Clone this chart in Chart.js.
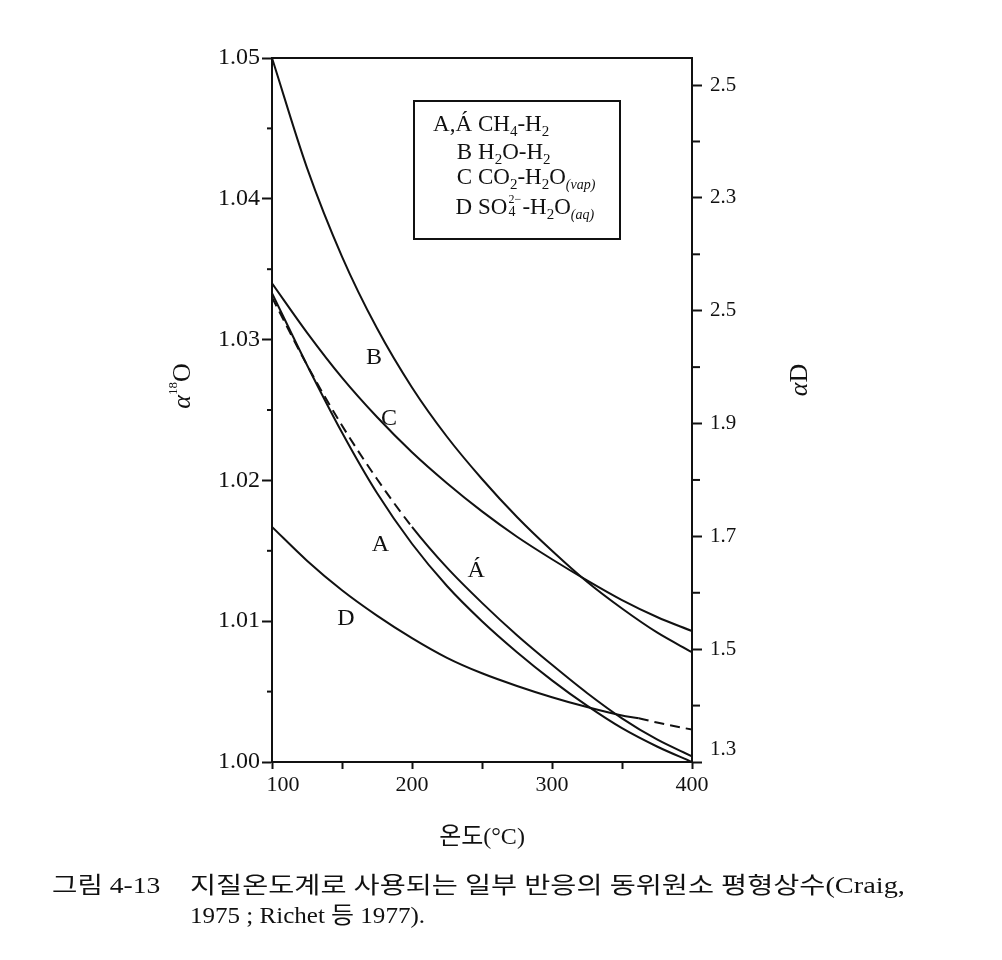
<!DOCTYPE html>
<html><head><meta charset="utf-8">
<script src="https://cdn.jsdelivr.net/npm/chart.js@4.4.0/dist/chart.umd.min.js"></script>
<style>
html,body{margin:0;padding:0;background:#fff;}
#wrap{position:relative;width:1002px;height:960px;overflow:hidden;}
#chart{position:absolute;left:0;top:0;}
.legend{position:absolute;left:413px;top:100px;width:204px;height:136px;border:2px solid #111;font-family:"Liberation Serif",serif;font-size:23px;color:#111;}
.row{position:absolute;left:0;height:26px;line-height:26px;white-space:nowrap;}
.k{display:inline-block;width:57px;text-align:right;}
.f{display:inline-block;margin-left:6px;}
.s{font-size:15px;position:relative;top:5px;}
.it{font-style:italic;font-size:14px;position:relative;top:5px;}
.stk{display:inline-block;position:relative;width:15px;height:20px;vertical-align:-3px;}
.stk .u{position:absolute;left:1px;top:-5px;font-size:12px;line-height:14px;}
.stk .d{position:absolute;left:1px;top:8px;font-size:14px;line-height:14px;}
.cap{position:absolute;font-family:"Liberation Serif","Noto Sans CJK KR",serif;font-size:23px;line-height:28px;white-space:nowrap;transform-origin:0 50%;color:#111;}
</style>
</head>
<body>
<div id="wrap">
<canvas id="chart" width="1002" height="960"></canvas>
<div class="legend">
  <div class="row" style="top:9px"><span class="k">A,Á</span><span class="f">CH<span class="s">4</span>-H<span class="s">2</span></span></div>
  <div class="row" style="top:37px"><span class="k">B</span><span class="f">H<span class="s">2</span>O-H<span class="s">2</span></span></div>
  <div class="row" style="top:62px"><span class="k">C</span><span class="f">CO<span class="s">2</span>-H<span class="s">2</span>O<span class="it">(vap)</span></span></div>
  <div class="row" style="top:92px"><span class="k">D</span><span class="f">SO<span class="stk"><span class="u">2−</span><span class="d">4</span></span>-H<span class="s">2</span>O<span class="it">(aq)</span></span></div>
</div>
<div id="cap1a" class="cap" style="left:52px;top:872px">그림 4-13</div>
<div id="cap1b" class="cap" style="left:190px;top:872px">지질온도계로 사용되는 일부 반응의 동위원소 평형상수(Craig,</div>
<div id="cap2" class="cap" style="left:190px;top:902px">1975 ; Richet 등 1977).</div>
</div>
<script>
// ---- data ----
const temps = [100,125,150,175,200,225,250,275,300,325,350,375,400];
const seriesA  = [1.0333,1.0282,1.0234,1.0191,1.0155,1.0125,1.0100,1.0078,1.0058,1.0040,1.0024,1.0011,1.0000];
const seriesA2 = [1.0330,1.0282,1.0239,1.0201,1.0167,1.0138,1.0113,1.0090,1.0069,1.0049,1.0031,1.0016,1.0004];
const seriesB  = [1.0500,1.0422,1.0359,1.0308,1.0266,1.0231,1.0201,1.0174,1.0150,1.0128,1.0109,1.0092,1.0078];
const seriesC  = [1.0340,1.0305,1.0273,1.0245,1.0220,1.0198,1.0178,1.0160,1.0144,1.0129,1.0115,1.0103,1.0093];
const tempsD   = [100,125,150,175,200,225,250,275,300,325,350,362,375,400];
const seriesD  = [1.0167,1.0143,1.0122,1.0104,1.0088,1.0074,1.0063,1.0054,1.0046,1.0039,1.0033,1.0031,1.0028,1.0023];
const dashedA2Until = 200;   // Á drawn dashed below this temperature
const dashedDFrom = 362;     // D drawn dashed above this temperature

const xTicks = [100,150,200,250,300,350,400];
const xTickLabels = ['100','','200','','300','','400'];
const leftTicks = [1.00,1.01,1.02,1.03,1.04,1.05];
const leftTickLabels = ['1.00','1.01','1.02','1.03','1.04','1.05'];
const leftMinorTicks = [1.005,1.015,1.025,1.035,1.045];
const rightTicks = [1.3,1.5,1.7,1.9,2.1,2.3,2.5];
const rightTickLabels = ['1.3','1.5','1.7','1.9','2.5','2.3','2.5'];
const rightMinorTicks = [1.4,1.6,1.8,2.0,2.2,2.4];

const curveNames = ['B','C','A','Á','D'];
const curveLabelX = [172.8,183.6,177.5,245.8,152.8];
const curveLabelY = [1.0287,1.0244,1.0154,1.0136,1.0102];

const xTitle = '온도(°C)';
// ---------------

const INK = '#111';
const pts = (xs, ys) => xs.map((x, i) => ({x: x, y: ys[i]}));
const lineStyle = {borderColor: INK, borderWidth: 2, pointRadius: 0, fill: false, cubicInterpolationMode: 'monotone'};

function drawRich(ctx, parts, cx, cy) {
  ctx.save();
  ctx.translate(cx, cy);
  ctx.rotate(-Math.PI / 2);
  let total = 0;
  parts.forEach(p => { ctx.font = p.font; p.w = ctx.measureText(p.t).width; total += p.w; });
  let x = -total / 2;
  ctx.textBaseline = 'middle';
  ctx.fillStyle = INK;
  parts.forEach(p => { ctx.font = p.font; ctx.fillText(p.t, x, p.dy || 0); x += p.w; });
  ctx.restore();
}

const decor = {
  id: 'decor',
  afterDraw(chart) {
    const ctx = chart.ctx, a = chart.chartArea;
    const sy = chart.scales.y, sy2 = chart.scales.y2, sx = chart.scales.x;
    ctx.save();
    ctx.strokeStyle = INK;
    ctx.lineWidth = 2;
    ctx.beginPath(); ctx.moveTo(a.left - 1, a.top); ctx.lineTo(a.right + 1, a.top); ctx.stroke();
    leftMinorTicks.forEach(v => {
      const py = sy.getPixelForValue(v);
      ctx.beginPath(); ctx.moveTo(a.left - 5, py); ctx.lineTo(a.left, py); ctx.stroke();
    });
    rightMinorTicks.forEach(v => {
      const py = sy2.getPixelForValue(v);
      ctx.beginPath(); ctx.moveTo(a.right, py); ctx.lineTo(a.right + 8, py); ctx.stroke();
    });
    ctx.fillStyle = INK;
    ctx.font = '24px "Liberation Serif", serif';
    ctx.textAlign = 'center';
    ctx.textBaseline = 'middle';
    curveNames.forEach((n, i) => {
      ctx.fillText(n, sx.getPixelForValue(curveLabelX[i]), sy.getPixelForValue(curveLabelY[i]));
    });
    ctx.restore();
    drawRich(ctx, [
      {t: 'α', font: 'italic 26px "Liberation Serif", serif'},
      {t: '18', font: '13px "Liberation Serif", serif', dy: -9},
      {t: 'O', font: '26px "Liberation Serif", serif'}
    ], a.left - 89, a.top + 328);
    drawRich(ctx, [
      {t: 'α', font: 'italic 26px "Liberation Serif", serif'},
      {t: 'D', font: '26px "Liberation Serif", serif'}
    ], a.right + 108, a.top + 322);
  }
};

new Chart(document.getElementById('chart'), {
  type: 'line',
  data: {
    datasets: [
      Object.assign({label: 'B', data: pts(temps, seriesB)}, lineStyle),
      Object.assign({label: 'C', data: pts(temps, seriesC)}, lineStyle),
      Object.assign({label: 'A', data: pts(temps, seriesA)}, lineStyle),
      Object.assign({label: 'Á', data: pts(temps, seriesA2),
        segment: {borderDash: c => c.p1.parsed.x <= dashedA2Until ? [10, 6] : undefined}}, lineStyle),
      Object.assign({label: 'D', data: pts(tempsD, seriesD),
        segment: {borderDash: c => c.p0.parsed.x >= dashedDFrom ? [10, 6] : undefined}}, lineStyle)
    ]
  },
  options: {
    responsive: false,
    animation: false,
    devicePixelRatio: 1,
    layout: {padding: {left: 0, right: 0, top: 58, bottom: 106}},
    plugins: {legend: {display: false}, tooltip: {enabled: false}},
    scales: {
      x: {
        type: 'linear', position: 'bottom', min: 100, max: 400,
        afterBuildTicks: s => { s.ticks = xTicks.map(v => ({value: v})); },
        afterFit: s => { s.height = 92; },
        ticks: {
          autoSkip: false, maxRotation: 0, color: INK, padding: 3,
          font: {family: '"Liberation Serif", serif', size: 22},
          callback: (v, i) => (i === 0 ? '\u2007\u2007' : '') + xTickLabels[i]
        },
        grid: {drawOnChartArea: false, drawTicks: true, tickLength: 7, tickWidth: 2, tickColor: INK},
        border: {color: INK, width: 2},
        title: {display: true, text: xTitle, color: INK,
          font: {family: '"Liberation Serif", "Noto Sans CJK KR", serif', size: 24, lineHeight: 1.0}}
      },
      y: {
        type: 'linear', position: 'left', min: 1.0, max: 1.05,
        afterBuildTicks: s => { s.ticks = leftTicks.map(v => ({value: v})); },
        afterFit: s => { s.width = 272; },
        ticks: {
          color: INK, padding: 2,
          font: {family: '"Liberation Serif", serif', size: 24},
          callback: (v, i) => leftTickLabels[i]
        },
        grid: {drawOnChartArea: false, drawTicks: true, tickLength: 10, tickWidth: 2, tickColor: INK},
        border: {color: INK, width: 2}
      },
      y2: {
        type: 'linear', position: 'right', min: 1.3, max: 2.548,
        afterBuildTicks: s => { s.ticks = rightTicks.map(v => ({value: v})); },
        afterFit: s => { s.width = 310; },
        ticks: {
          color: INK, padding: 8,
          font: {family: '"Liberation Serif", serif', size: 21},
          callback: (v, i) => i === 0 ? [rightTickLabels[i], ''] : rightTickLabels[i]
        },
        grid: {drawOnChartArea: false, drawTicks: true, tickLength: 10, tickWidth: 2, tickColor: INK},
        border: {color: INK, width: 2}
      }
    }
  },
  plugins: [decor]
});

[['cap1a', 108], ['cap1b', 715], ['cap2', 235]].forEach(([id, w]) => {
  const el = document.getElementById(id);
  el.style.transform = 'scaleX(' + (w / el.offsetWidth) + ')';
});
</script>
</body></html>
